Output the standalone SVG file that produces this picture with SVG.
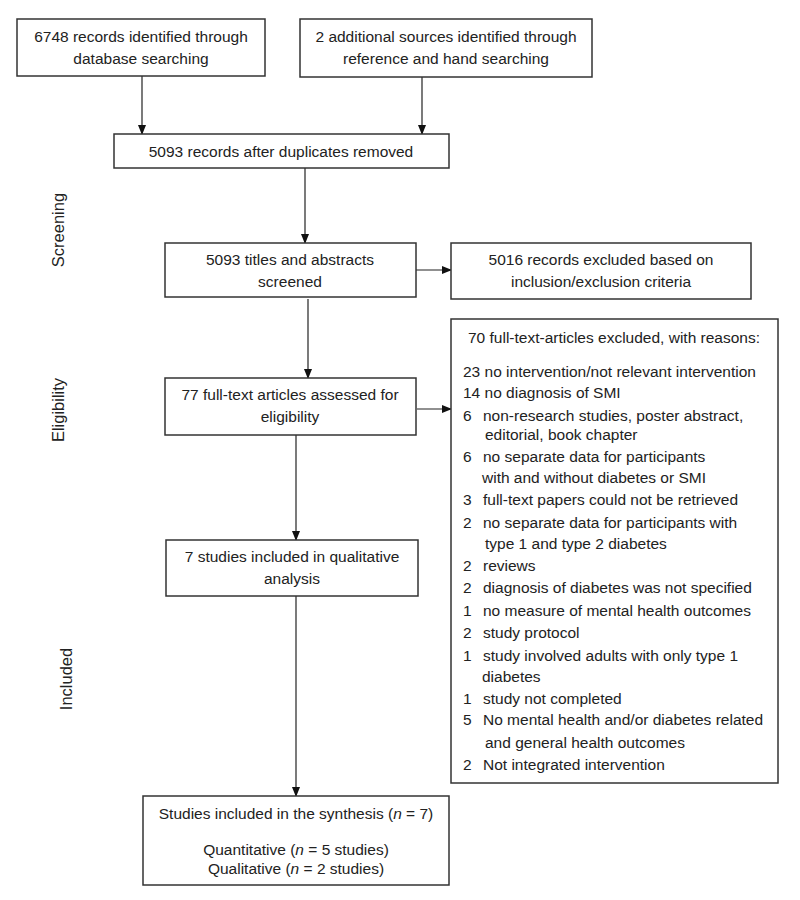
<svg xmlns="http://www.w3.org/2000/svg" width="800" height="900" viewBox="0 0 800 900">
<defs>
<marker id="ah" markerWidth="10" markerHeight="10" refX="9" refY="5" orient="auto" markerUnits="userSpaceOnUse">
<path d="M0,1 L10,5 L0,9 Z" fill="#111"/>
</marker>
<style>
.box{fill:#fff;stroke:#333;stroke-width:1.5}
.t{font-family:"Liberation Sans",Arial,sans-serif;font-size:15.5px;fill:#222}
.c{text-anchor:middle}
.side{font-family:"Liberation Sans",Arial,sans-serif;font-size:16.5px;fill:#222;text-anchor:middle}
.ln{stroke:#222;stroke-width:1.2;fill:none;marker-end:url(#ah)}
</style>
</defs>
<rect width="800" height="900" fill="#fff"/>
<g id="labels">
<text class="side" transform="translate(64,230) rotate(-90)">Screening</text>
<text class="side" transform="translate(64,410) rotate(-90)">Eligibility</text>
<text class="side" transform="translate(72,679) rotate(-90)">Included</text>
</g>
<g id="connectors">
<line class="ln" x1="142" y1="76" x2="142" y2="134"/>
<line class="ln" x1="422" y1="77" x2="422" y2="134"/>
<line class="ln" x1="305" y1="168" x2="305" y2="243"/>
<line class="ln" x1="416" y1="270" x2="451" y2="270"/>
<line class="ln" x1="308" y1="299" x2="308" y2="378"/>
<line class="ln" x1="417" y1="409" x2="451" y2="409"/>
<line class="ln" x1="296" y1="435" x2="296" y2="540"/>
<line class="ln" x1="296" y1="596" x2="296" y2="796"/>
</g>
<g id="n1">
<rect class="box" x="17" y="19" width="248" height="57"/>
<text class="t c" x="141" y="42">6748 records identified through</text>
<text class="t c" x="141" y="64">database searching</text>
</g>
<g id="n2">
<rect class="box" x="300" y="19" width="292" height="58"/>
<text class="t c" x="446" y="42">2 additional sources identified through</text>
<text class="t c" x="446" y="64">reference and hand searching</text>
</g>
<g id="n3">
<rect class="box" x="114" y="134" width="335" height="34"/>
<text class="t c" x="281" y="157">5093 records after duplicates removed</text>
</g>
<g id="n4">
<rect class="box" x="165" y="243" width="251" height="54"/>
<text class="t c" x="290" y="265">5093 titles and abstracts</text>
<text class="t c" x="290" y="287">screened</text>
</g>
<g id="n5">
<rect class="box" x="451" y="243" width="300" height="56"/>
<text class="t c" x="601" y="265">5016 records excluded based on</text>
<text class="t c" x="601" y="287">inclusion/exclusion criteria</text>
</g>
<g id="n6">
<rect class="box" x="165" y="378" width="251" height="57"/>
<text class="t c" x="290" y="400">77 full-text articles assessed for</text>
<text class="t c" x="290" y="422">eligibility</text>
</g>
<g id="n7">
<rect class="box" x="451" y="319" width="327" height="464"/>
<text class="t c" x="614" y="343">70 full-text-articles excluded, with reasons:</text>
<text class="t" x="463" y="377">23 no intervention/not relevant intervention</text>
<text class="t" x="463" y="398">14 no diagnosis of SMI</text>
<text class="t" x="463" y="421">6</text><text class="t" x="483" y="421">non-research studies, poster abstract,</text>
<text class="t" x="485" y="440">editorial, book chapter</text>
<text class="t" x="463" y="462">6</text><text class="t" x="483" y="462">no separate data for participants</text>
<text class="t" x="482" y="483">with and without diabetes or SMI</text>
<text class="t" x="463" y="505">3</text><text class="t" x="483" y="505">full-text papers could not be retrieved</text>
<text class="t" x="463" y="528">2</text><text class="t" x="483" y="528">no separate data for participants with</text>
<text class="t" x="485" y="549">type 1 and type 2 diabetes</text>
<text class="t" x="463" y="571">2</text><text class="t" x="483" y="571">reviews</text>
<text class="t" x="463" y="593">2</text><text class="t" x="483" y="593">diagnosis of diabetes was not specified</text>
<text class="t" x="463" y="616">1</text><text class="t" x="483" y="616">no measure of mental health outcomes</text>
<text class="t" x="463" y="638">2</text><text class="t" x="483" y="638">study protocol</text>
<text class="t" x="463" y="661">1</text><text class="t" x="483" y="661">study involved adults with only type 1</text>
<text class="t" x="482" y="682">diabetes</text>
<text class="t" x="463" y="704">1</text><text class="t" x="483" y="704">study not completed</text>
<text class="t" x="463" y="725">5</text><text class="t" x="483" y="725">No mental health and/or diabetes related</text>
<text class="t" x="485" y="748">and general health outcomes</text>
<text class="t" x="463" y="770">2</text><text class="t" x="483" y="770">Not integrated intervention</text>
</g>
<g id="n8">
<rect class="box" x="166" y="540" width="252" height="56"/>
<text class="t c" x="292" y="562">7 studies included in qualitative</text>
<text class="t c" x="292" y="584">analysis</text>
</g>
<g id="n9">
<rect class="box" x="143" y="796" width="306" height="89"/>
<text class="t c" x="296" y="819">Studies included in the synthesis (<tspan font-style="italic">n</tspan> = 7)</text>
<text class="t c" x="296" y="855">Quantitative (<tspan font-style="italic">n</tspan> = 5 studies)</text>
<text class="t c" x="296" y="874">Qualitative (<tspan font-style="italic">n</tspan> = 2 studies)</text>
</g>
</svg>
